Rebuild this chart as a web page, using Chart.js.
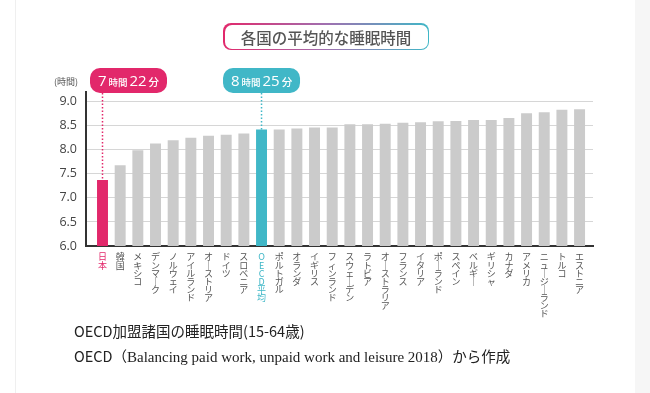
<!DOCTYPE html>
<html>
<head>
<meta charset="utf-8">
<script src="https://cdn.jsdelivr.net/npm/chart.js@4.4.1/dist/chart.umd.min.js"></script>
<style>
  html, body { margin: 0; padding: 0; background: #fff; }
  #page { position: relative; width: 650px; height: 393px; overflow: hidden; background: #fff; }
  #leftLine { position: absolute; left: 15px; top: 0; width: 1px; height: 393px; background: #efefef; }
  #rightStrip { position: absolute; left: 635px; top: 0; width: 15px; height: 393px; background: #f6f6f6; }
  #chartBox { position: absolute; left: 0; top: 0; width: 650px; height: 393px; }
  #titleBox {
    position: absolute; left: 223px; top: 23px; width: 206px; height: 27px;
    border-radius: 8px; padding: 1.5px; box-sizing: border-box;
    background: linear-gradient(90deg, #e2286b, #a070b0 50%, #40b7c7);
  }
  #titleBox div {
    width: 100%; height: 100%; border-radius: 7px; background: #fff;
    font-family: "Noto Sans CJK JP", sans-serif; font-size: 15.5px; color: #555;
    text-align: center; line-height: 24px; font-weight: 500;
  }
  #caption {
    position: absolute; left: 74px; top: 318px;
    font-family: "Noto Sans CJK JP", sans-serif; font-size: 14.5px; color: #222; line-height: 25px;
  }
  #caption .en { font-family: "Liberation Serif", serif; font-size: 15px; }
</style>
</head>
<body>
<div id="page">
  <div id="leftLine"></div>
  <div id="rightStrip"></div>
  <div id="chartBox"><canvas id="sleepChart" width="650" height="393"></canvas></div>
  <div id="titleBox"><div>各国の平均的な睡眠時間</div></div>
  <div id="caption">
    <div>OECD加盟諸国の睡眠時間(15-64歳)</div>
    <div>OECD（<span class="en">Balancing paid work, unpaid work and leisure 2018</span>）から作成</div>
  </div>
</div>
<script>
// data (hours of sleep per day)
const countries = ['日本', '韓国', 'メキシコ', 'デンマーク', 'ノルウェイ', 'アイルランド', 'オーストリア', 'ドイツ', 'スロベニア', 'OECD平均',
  'ポルトガル', 'オランダ', 'イギリス', 'フィンランド', 'スウェーデン', 'ラトビア', 'オーストラリア', 'フランス', 'イタリア', 'ポーランド',
  'スペイン', 'ベルギー', 'ギリシャ', 'カナダ', 'アメリカ', 'ニュージーランド', 'トルコ', 'エストニア'];
const sleepHours = [7.37, 7.68, 7.99, 8.13, 8.2, 8.25, 8.29, 8.31, 8.34, 8.42,
  8.42, 8.44, 8.46, 8.46, 8.53, 8.53, 8.54, 8.56, 8.57, 8.59,
  8.6, 8.62, 8.62, 8.66, 8.76, 8.78, 8.83, 8.84];
const yTicks = [6.0, 6.5, 7.0, 7.5, 8.0, 8.5, 9.0];
const callouts = [
  { index: 0, hours: '7', minutes: '22' },
  { index: 9, hours: '8', minutes: '25' }
];

const PINK = '#e2286b';
const TEAL = '#40b7c7';
const GRAY = '#cbcbcb';

function barColor(i) {
  if (i === 0) return PINK;
  if (i === 9) return TEAL;
  return GRAY;
}

// vertical (tategaki) label: one character per line, long vowel turned upright
function verticalLabel(name) {
  return Array.from(name).map(c => c === 'ー' ? '｜' : c);
}

function roundRect(ctx, x, y, w, h, r) {
  ctx.beginPath();
  ctx.moveTo(x + r, y);
  ctx.arcTo(x + w, y, x + w, y + h, r);
  ctx.arcTo(x + w, y + h, x, y + h, r);
  ctx.arcTo(x, y + h, x, y, r);
  ctx.arcTo(x, y, x + w, y, r);
  ctx.closePath();
}

const calloutPlugin = {
  id: 'callouts',
  afterDatasetsDraw(chart) {
    const ctx = chart.ctx;
    const xs = chart.scales.x, ys = chart.scales.y;
    ctx.save();

    // unit label above the y axis
    ctx.font = '9px "Noto Sans CJK JP"';
    ctx.fillStyle = '#555';
    ctx.textAlign = 'right';
    ctx.textBaseline = 'middle';
    ctx.fillText('(時間)', 78, 82);

    callouts.forEach(c => {
      const color = c.index === 0 ? PINK : TEAL;
      const bx = xs.getPixelForValue(c.index);
      const by = ys.getPixelForValue(sleepHours[c.index]);
      const boxW = 77, boxH = 25, boxTop = 68;
      const boxCx = Math.max(bx, 128.5);

      // dotted leader
      ctx.strokeStyle = color;
      ctx.lineWidth = 1.5;
      ctx.setLineDash([1.5, 2]);
      ctx.beginPath();
      ctx.moveTo(bx, boxTop + boxH);
      ctx.lineTo(bx, by);
      ctx.stroke();
      ctx.setLineDash([]);

      // label box
      ctx.fillStyle = color;
      roundRect(ctx, boxCx - boxW / 2, boxTop, boxW, boxH, 10);
      ctx.fill();

      const parts = [
        { t: c.hours, f: '15px "Open Sans"' },
        { t: '時間', f: '500 9.5px "Noto Sans CJK JP"' },
        { t: c.minutes, f: '15px "Open Sans"' },
        { t: '分', f: '500 10.5px "Noto Sans CJK JP"' }
      ];
      const gap = 2;
      let total = 0;
      parts.forEach(p => { ctx.font = p.f; p.w = ctx.measureText(p.t).width; total += p.w; });
      total += gap * (parts.length - 1);
      let x = boxCx - total / 2;
      ctx.fillStyle = '#fff';
      ctx.textAlign = 'left';
      ctx.textBaseline = 'alphabetic';
      parts.forEach(p => {
        ctx.font = p.f;
        ctx.fillText(p.t, x, boxTop + 18);
        x += p.w + gap;
      });
    });
    ctx.restore();
  }
};

new Chart(document.getElementById('sleepChart'), {
  type: 'bar',
  data: {
    datasets: [{
      data: sleepHours.map((v, i) => ({ x: i, y: v })),
      backgroundColor: sleepHours.map((v, i) => barColor(i)),
      borderWidth: 0,
      barPercentage: 0.62,
      categoryPercentage: 1
    }]
  },
  options: {
    responsive: false,
    animation: false,
    layout: { padding: { left: 0, right: 57, top: 92, bottom: 0 } },
    plugins: { legend: { display: false }, tooltip: { enabled: false } },
    scales: {
      x: {
        type: 'linear',
        offset: false,
        min: -0.934,
        max: 27.76,
        afterBuildTicks: s => { s.ticks = countries.map((c, i) => ({ value: i })); },
        afterFit: s => { s.height = 147; },
        grid: { display: false, drawTicks: false },
        border: { color: '#333', width: 2 },
        ticks: {
          autoSkip: false,
          maxRotation: 0,
          minRotation: 0,
          padding: 7,
          callback: v => verticalLabel(countries[v]),
          color: c => barColor(c.index) === GRAY ? '#555' : barColor(c.index),
          font: { family: '"Noto Sans CJK JP"', size: 9, lineHeight: 0.9 }
        }
      },
      y: {
        min: 6,
        max: 9.2,
        afterBuildTicks: s => { s.ticks = yTicks.map(v => ({ value: v })); },
        afterFit: s => { s.width = 86; },
        grid: { color: '#d6d6d6', lineWidth: 1, drawTicks: false },
        border: { color: '#333', width: 2 },
        ticks: {
          padding: 9,
          color: '#444',
          callback: v => v.toFixed(1),
          font: { family: '"Open Sans"', size: 12.5 }
        }
      }
    }
  },
  plugins: [calloutPlugin]
});
</script>
</body>
</html>
